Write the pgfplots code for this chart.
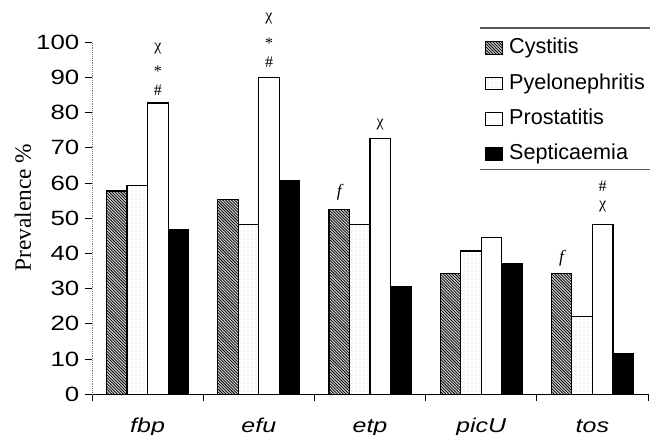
\documentclass[border=0pt]{standalone}
\usepackage{pgfplots}
\pgfplotsset{compat=1.18}
\usetikzlibrary{patterns}
\usepackage{fontspec}
\setmainfont{Liberation Sans}
\newfontfamily\tickfont[FakeStretch=1.25]{Liberation Sans}
\newfontfamily\xfont[FakeStretch=1.25]{Liberation Sans}
\newfontfamily\seriffont{Liberation Serif}

\pgfdeclarepatternformonly{dnwlines}{\pgfqpoint{-1pt}{-1pt}}{\pgfqpoint{3.2pt}{3.2pt}}{\pgfqpoint{2.2pt}{2.2pt}}{%
 \pgfsetlinewidth{0.55pt}\pgfpathmoveto{\pgfqpoint{0pt}{2.2pt}}\pgfpathlineto{\pgfqpoint{2.3pt}{-0.1pt}}\pgfusepath{stroke}}

\pgfplotstableread{
x cys pye pro sep
0 57.7 59.2 82.7 46.9
1 55.4 48.1 90.0 60.8
2 52.4 48.1 72.7 30.5
3 34.2 40.7 44.6 37.2
4 34.2 22.2 48.1 11.5
}\datatable

\begin{document}
\begin{tikzpicture}
\begin{axis}[name=ax, scale only axis, width=417pt, height=264.2pt,
  ybar=0pt, bar width=15.4pt,
  xmin=-0.5, xmax=4.5, ymin=0, ymax=100, clip=false,
  axis x line*=bottom, axis y line*=left,
  x axis line style={black, line width=0.8pt, -},
  y axis line style={gray, densely dotted, -},
  tick align=outside,
  xtick={0,...,4}, xticklabels={fbp,efu,etp,picU,tos},
  major x tick style={draw=none},
  minor xtick={-0.5,0.5,...,4.5},
  minor tick length=5pt,
  minor x tick style={black, line width=0.6pt},
  ytick={0,10,...,100}, major tick length=5pt,
  ytick style={black, line width=0.6pt},
  /pgf/number format/assume math mode=true,
  yticklabel style={font=\tickfont\fontsize{15.5}{15.5}\selectfont, xshift=-1pt},
  xticklabel style={font=\xfont\itshape\fontsize{15}{15}\selectfont, anchor=base, yshift=-23.5pt},
  ylabel={Prevalence \%},
  every axis y label/.append style={at={(axis description cs:-0.124,0.53)}, anchor=center, font=\seriffont\fontsize{17.5}{17.5}\selectfont},
  legend style={draw=none, fill=none, at={(axis description cs:0.7068,1.0125)}, anchor=north west,
    font=\fontsize{16.2}{16.2}\selectfont, inner sep=0pt, outer sep=0pt, row sep=10.8pt, column sep=4.5pt,
    nodes={inner sep=0pt, text height=12.2pt, text depth=3.5pt}},
  legend cell align=left,
  area legend,
  legend image code/.code={\draw[#1] (0pt,-4.75pt) rectangle (12.75pt,4.75pt);},
]
\addplot[draw=black, line width=0.9pt, fill=gray!35, postaction={pattern=dnwlines}] table[x=x,y=cys] {\datatable};
\addplot[draw=black, line width=0.9pt, fill=white, postaction={pattern=dots, pattern color=gray!45}] table[x=x,y=pye] {\datatable};
\addplot[draw=black, line width=0.9pt, fill=white] table[x=x,y=pro] {\datatable};
\addplot[draw=black, line width=0.9pt, fill=black] table[x=x,y=sep] {\datatable};
\legend{Cystitis,Pyelonephritis,Prostatitis,Septicaemia}

\draw[gray!70!black, line width=0.8pt] (axis cs:2.989,104.0) -- (axis cs:4.518,104.0);
\draw[gray!70!black, line width=0.8pt] (axis cs:2.989,63.7) -- (axis cs:4.518,63.7);

\begin{scope}[every node/.style={font=\seriffont\fontsize{12}{12}\selectfont, inner sep=0pt}]
\node at (axis cs:0.092,86.4) {\#};
\node at (axis cs:0.092,91.6) {*};
\node at (axis cs:0.092,98.1) {χ};
\node at (axis cs:1.092,94.4) {\#};
\node at (axis cs:1.092,99.8) {*};
\node at (axis cs:1.092,106.6) {χ};
\node at (axis cs:2.092,76.5) {χ};
\node at (axis cs:4.092,59.0) {\#};
\node at (axis cs:4.092,53.3) {χ};
\node[font=\seriffont\itshape\fontsize{13}{13}\selectfont] at (axis cs:1.723,57.3) {f};
\node[font=\seriffont\itshape\fontsize{13}{13}\selectfont] at (axis cs:3.723,38.6) {f};
\end{scope}
\end{axis}
\pgfresetboundingbox
\path (ax.south west) ++(-69pt,-30.5pt) rectangle ++(487.5pt,326.25pt);
\end{tikzpicture}
\end{document}
